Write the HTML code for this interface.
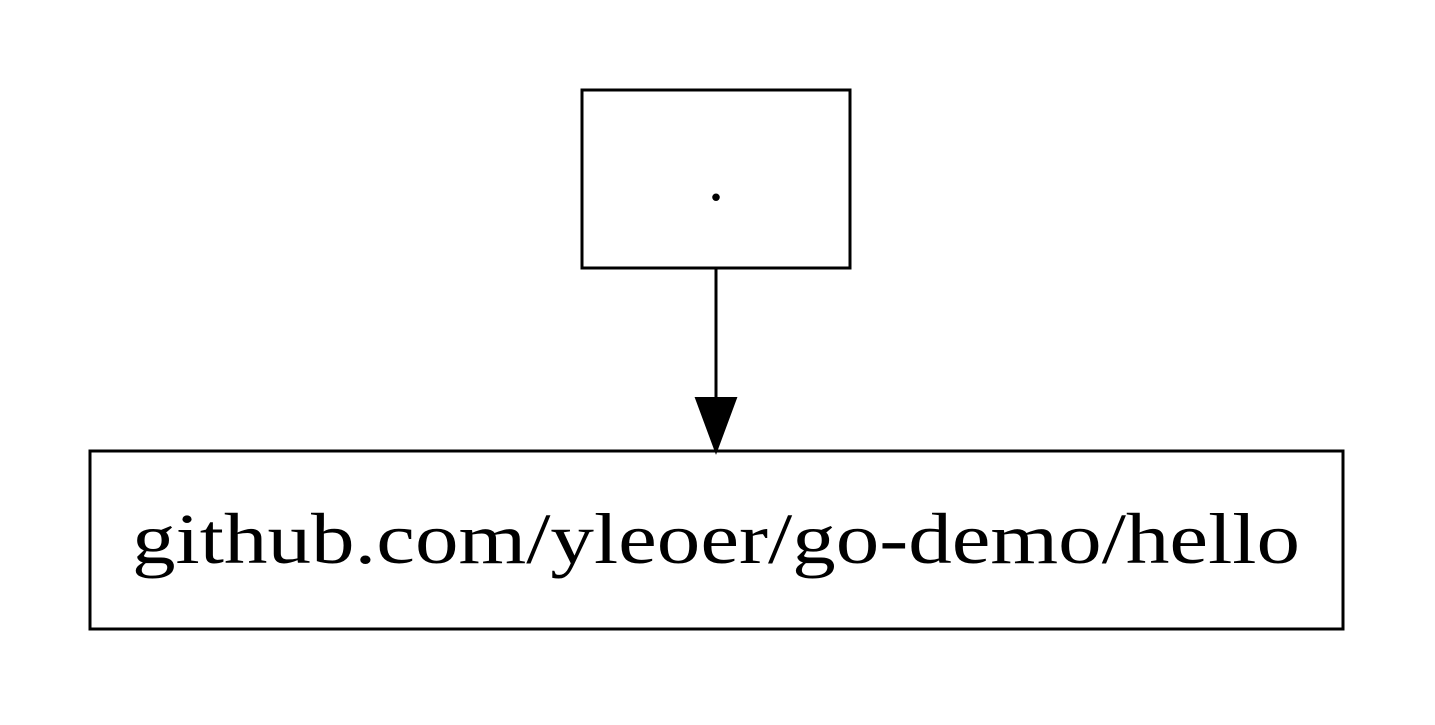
<!DOCTYPE html>
<html><head><style>html,body{margin:0;padding:0;background:#fff;}</style></head>
<body>
<svg width="1435" height="720" viewBox="0 0 1435 720" xmlns="http://www.w3.org/2000/svg">
<rect width="1435" height="720" fill="#fff"/>
<rect x="582" y="90" width="268" height="178" fill="none" stroke="#000" stroke-width="3"/>
<text x="716" y="200" font-family="Liberation Serif, serif" font-size="64" text-anchor="middle">.</text>
<line x1="716" y1="268" x2="716" y2="400" stroke="#000" stroke-width="3"/>
<polygon points="696,398 736,398 716,452" fill="#000" stroke="#000" stroke-width="2"/>
<rect x="90" y="451" width="1253" height="178" fill="none" stroke="#000" stroke-width="3"/>
<text x="716" y="563" font-family="Liberation Serif, serif" font-size="72" text-anchor="middle" textLength="1168" lengthAdjust="spacingAndGlyphs">github.com/yleoer/go-demo/hello</text>
</svg>
</body></html>
